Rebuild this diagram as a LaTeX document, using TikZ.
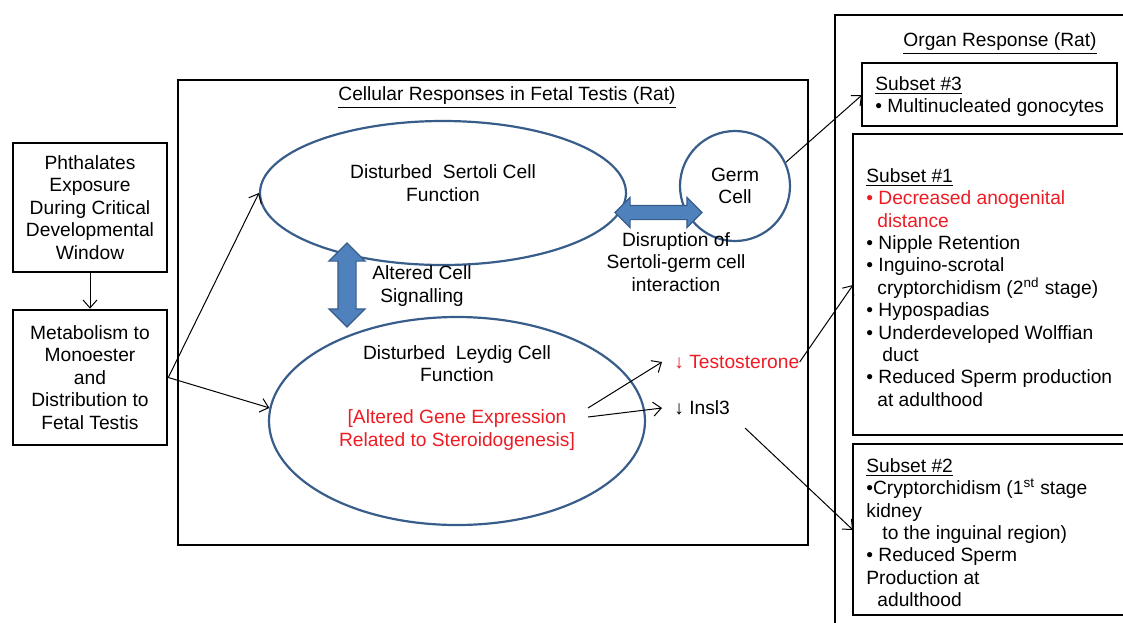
\documentclass[tikz,border=0pt]{standalone}
\usepackage{fontspec}
\setmainfont{Liberation Sans}
\usetikzlibrary{arrows.meta, positioning, shapes.geometric, shapes.arrows}
\definecolor{ellblue}{RGB}{56,93,138}
\definecolor{arrblue}{RGB}{79,129,189}
\definecolor{txtred}{RGB}{237,28,36}

\begin{document}
\begin{tikzpicture}[x=0.5pt, y=-0.5pt,
    every node/.style={font=\fontsize{9.6}{11.2}\selectfont, inner sep=0pt},
    box/.style={draw, line width=1.3pt, align=center},
    cell/.style={ellipse, draw=ellblue, line width=1.1pt},
    arr/.style={-{Straight Barb[length=4pt, width=7pt]}, line width=0.5pt},
    blockarr/.style={double arrow, draw=ellblue, fill=arrblue, line width=0.6pt,
      double arrow tip angle=90},
    lst/.style={align=left, anchor=north west},
  ]
  \useasboundingbox (0,0) rectangle (1123,622);
  \clip (0,0) rectangle (1123,622);

  % Exposure side
  \node[box, minimum width=77pt, minimum height=64.5pt] (phth) at (90,207.5)
    {Phthalates\\Exposure\\During Critical\\Developmental\\Window};
  \node[box, minimum width=77pt, minimum height=67.5pt] (metab) at (90,377.5)
    {Metabolism to\\Monoester\\and\\Distribution to\\Fetal Testis};
  \draw[arr] (phth.south) -- (metab.north);

  % Fetal testis box
  \draw[line width=1.3pt] (178,80) rectangle (808,545);
  \node (celltitle) at (507,98) {\underline{Cellular Responses in Fetal Testis (Rat)}};

  \node[cell, minimum width=183pt, minimum height=72pt] (sertoli) at (443,193) {};
  \node[align=center] (sertolitxt) at (443,183) {Disturbed\ \ Sertoli Cell\\Function};
  \node[cell, circle, minimum size=55pt] (germ) at (735,186) {};
  \node[align=center] (germtxt) at (735,186) {Germ\\Cell};
  \node[cell, minimum width=188pt, minimum height=104pt] (leydig) at (457,421) {};
  \node[align=center] (leydigtxt) at (457,363.5) {Disturbed\ \ Leydig Cell\\Function};
  \node[align=center, txtred] (genetxt) at (457,430)
    {[Altered Gene Expression\\Related to Steroidogenesis]};

  \node[blockarr, inner sep=3.25pt, minimum height=43.5pt,
    double arrow head extend=4pt] (sgarr) at (658.5,212.5) {};
  \node[blockarr, inner sep=4.25pt, minimum height=42pt,
    double arrow head extend=4.5pt, rotate=90] (slarr) at (347,285) {};
  \node[align=center] (signal) at (422,286) {Altered Cell\\Signalling};
  \node[align=center] (disrupt) at (676,262) {Disruption of\\Sertoli-germ cell\\interaction};

  \node[anchor=west, txtred] (testo) at (674,362) {↓ Testosterone};
  \node[anchor=west] (insl) at (674,408) {↓ Insl3};
  \coordinate (g1) at (588,408);
  \coordinate (g2) at (588,417);
  \coordinate (inslout) at (745,428);

  \draw[arr] (metab.east) -- (sertoli.west);
  \draw[arr] (metab.east) -- (leydig.176);
  \draw[arr] (g1) -- ([xshift=-6pt]testo.west);
  \draw[arr] (g2) -- ([xshift=-6pt]insl.west);

  % Organ response box
  \draw[line width=1.3pt] (835,15) rectangle (1140,640);
  \node (organtitle) at (1000,44) {\underline{Organ Response (Rat)}};
  \draw[line width=1.3pt] (862,63) rectangle (1117,126);
  \coordinate (sub3) at (862,95);
  \node[lst] (sub3txt) at (875,76) {\underline{Subset \#3}\\• Multinucleated gonocytes};
  \draw[line width=1.3pt] (853,134) rectangle (1140,435);
  \coordinate (sub1) at (853,285);
  \node[lst] (sub1txt) at (866,168) {\underline{Subset \#1}\\
    \textcolor{txtred}{• Decreased anogenital}\\
    \hspace*{5.5pt}\textcolor{txtred}{distance}\\
    • Nipple Retention\\
    • Inguino-scrotal\\
    \hspace*{5.5pt}cryptorchidism (2\textsuperscript{nd} stage)\\
    • Hypospadias\\
    • Underdeveloped Wolffian\\
    \hspace*{8pt}duct\\
    • Reduced Sperm production\\
    \hspace*{5.5pt}at adulthood};
  \draw[line width=1.3pt] (853,444) rectangle (1140,615);
  \coordinate (sub2) at (853,530);
  \node[lst] (sub2txt) at (866,458) {\underline{Subset \#2}\\
    •Cryptorchidism (1\textsuperscript{st} stage\\
    kidney\\
    \hspace*{8pt}to the inguinal region)\\
    • Reduced Sperm\\
    Production at\\
    \hspace*{5.5pt}adulthood};

  \draw[arr] (germ.25) -- (sub3);
  \draw[arr] (testo.east) -- (sub1);
  \draw[arr] (inslout) -- (sub2);
\end{tikzpicture}
\end{document}
